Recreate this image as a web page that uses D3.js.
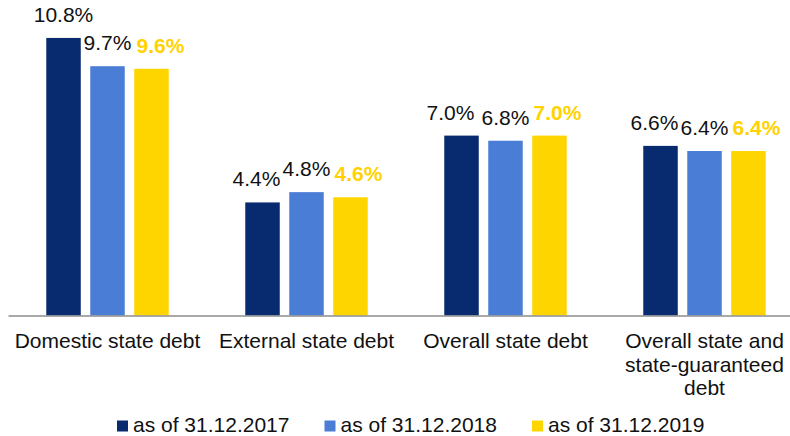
<!DOCTYPE html>
<html>
<head>
<meta charset="utf-8">
<script src="https://cdn.jsdelivr.net/npm/d3@7"></script>
<style>
  html, body { margin: 0; padding: 0; background: #fff; }
  svg { display: block; font-family: "Liberation Sans", Arial, sans-serif; }
</style>
</head>
<body>
<svg id="chart" width="790" height="436"></svg>
<script>
// ---- data ----
const categories = ["Domestic state debt", "External state debt", "Overall state debt", "Overall state and state-guaranteed debt"];
const seriesNames = ["as of 31.12.2017", "as of 31.12.2018", "as of 31.12.2019"];
const values2017 = [10.8, 4.4, 7.0, 6.6];
const values2018 = [9.7, 4.8, 6.8, 6.4];
const values2019 = [9.6, 4.6, 7.0, 6.4];

// ---- styling / layout ----
const colors = ["#082a6e", "#4a7dd6", "#ffd500"];
const labelColors = ["#111111", "#111111", "#ffd200"];
const labelWeights = ["normal", "normal", "bold"];
// horizontal nudges of data labels (label collision avoidance), per series per category
const labelNudge = [[0, -6, -11, -6], [0, 0, 0, 0], [9, 8, 8, 8]];

const svg = d3.select("#chart");
const W = 790, H = 436;
const baseY = 315.5;
const fontSize = 21;

const seriesValues = [values2017, values2018, values2019];
const table = categories.map((c, i) => ({
  category: c,
  values: seriesNames.map((s, j) => ({ series: s, si: j, value: seriesValues[j][i], ci: i }))
}));

const x0 = d3.scaleBand().domain(categories).range([8, 804]).paddingInner(0).paddingOuter(0);
const x1 = d3.scaleBand().domain(seriesNames).range([0, x0.bandwidth()]).paddingInner(0.216).paddingOuter(0.87);
const y = d3.scaleLinear().domain([0, 12]).range([baseY, 7.1]);

// bars
const groups = svg.append("g").selectAll("g").data(table).join("g")
  .attr("transform", d => `translate(${x0(d.category)},0)`);

groups.selectAll("rect").data(d => d.values).join("rect")
  .attr("x", d => x1(d.series))
  .attr("y", d => y(d.value))
  .attr("width", x1.bandwidth())
  .attr("height", d => y(0) - y(d.value))
  .attr("fill", d => colors[d.si]);

// data labels
groups.selectAll("text.lbl").data(d => d.values).join("text")
  .attr("class", "lbl")
  .attr("x", d => x1(d.series) + x1.bandwidth() / 2 + labelNudge[d.si][d.ci])
  .attr("y", d => y(d.value) - 16)
  .attr("text-anchor", "middle")
  .attr("font-size", fontSize)
  .attr("font-weight", d => labelWeights[d.si])
  .attr("fill", d => labelColors[d.si])
  .text(d => d.value.toFixed(1) + "%");

// x axis
const axis = svg.append("g")
  .attr("transform", `translate(0,${baseY})`)
  .call(d3.axisBottom(x0).tickSize(0).tickSizeOuter(0));
axis.select(".domain").attr("stroke", "#8c8c8c").attr("stroke-width", 1.6);
axis.selectAll(".tick text")
  .attr("font-size", fontSize)
  .attr("font-family", "Liberation Sans, Arial, sans-serif")
  .attr("fill", "#111")
  .each(function(d) {
    const t = d3.select(this);
    const words = d.split(/\s+/);
    t.text(null).attr("y", 0).attr("dy", null);
    const maxW = x0.bandwidth() - 4;
    let lines = [], line = [];
    const probe = t.append("tspan");
    words.forEach(w => {
      const test = line.concat([w]).join(" ");
      probe.text(test);
      if (probe.node().getComputedTextLength() > maxW && line.length) {
        lines.push(line.join(" "));
        line = [w];
      } else {
        line.push(w);
      }
    });
    lines.push(line.join(" "));
    probe.remove();
    lines.forEach((l, i) => {
      t.append("tspan").attr("x", 0).attr("y", 32.5 + i * 23.5).text(l);
    });
  });

// legend
const legend = svg.append("g");
seriesNames.forEach((s, i) => {
  const lx = 117 + i * 207.5;
  legend.append("rect").attr("x", lx).attr("y", 420.5).attr("width", 11).attr("height", 11).attr("fill", colors[i]);
  legend.append("text").attr("x", lx + 16).attr("y", 432).attr("font-size", fontSize).attr("fill", "#111").text(s);
});
</script>
</body>
</html>
